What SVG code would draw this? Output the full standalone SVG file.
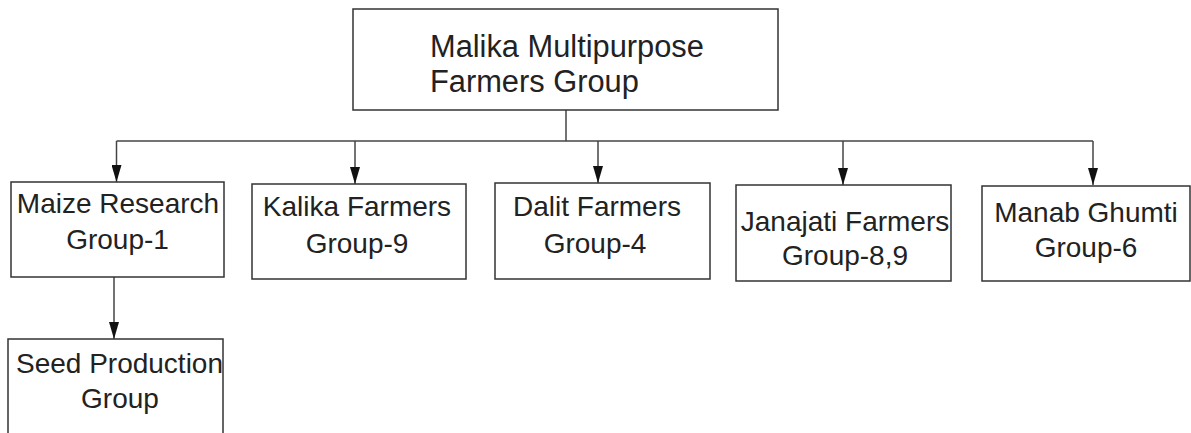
<svg xmlns="http://www.w3.org/2000/svg" width="1191" height="433" viewBox="0 0 1191 433">
<style>
.box{fill:#fff;stroke:#333;stroke-width:1.5}
.t{font-family:"Liberation Sans",Arial,sans-serif;font-size:28px;fill:#222;text-anchor:middle}
.tl{font-family:"Liberation Sans",Arial,sans-serif;font-size:30.8px;fill:#222}
.c{fill:none;stroke:#444;stroke-width:1.5}
</style>
<defs>
<marker id="a" viewBox="0 0 17 10" refX="17" refY="5" markerWidth="17" markerHeight="10" markerUnits="userSpaceOnUse" orient="auto">
<path d="M0,0 L17,5 L0,10 Z" fill="#111"/>
</marker>
</defs>
<rect width="1191" height="433" fill="#fff"/>
<g id="connectors">
<path class="c" d="M566,110 V141"/>
<path class="c" d="M116.5,141 H1093"/>
<path class="c" d="M116.5,141 V182" marker-end="url(#a)"/>
<path class="c" d="M355,141 V184" marker-end="url(#a)"/>
<path class="c" d="M598,141 V183" marker-end="url(#a)"/>
<path class="c" d="M843,141 V185" marker-end="url(#a)"/>
<path class="c" d="M1093,141 V185" marker-end="url(#a)"/>
<path class="c" d="M114,277 V339" marker-end="url(#a)"/>
</g>
<g id="root">
<rect class="box" x="353" y="9" width="425" height="101"/>
<text class="tl" x="430" y="57">Malika Multipurpose</text>
<text class="tl" x="430" y="92">Farmers Group</text>
</g>
<g id="maize">
<rect class="box" x="11" y="182" width="213" height="95"/>
<text class="t" x="118" y="213">Maize Research</text>
<text class="t" x="117.5" y="249">Group-1</text>
</g>
<g id="kalika">
<rect class="box" x="252" y="184" width="214" height="95"/>
<text class="t" x="357" y="216">Kalika Farmers</text>
<text class="t" x="357" y="253">Group-9</text>
</g>
<g id="dalit">
<rect class="box" x="495" y="183" width="215" height="96"/>
<text class="t" x="597" y="216">Dalit Farmers</text>
<text class="t" x="595" y="253">Group-4</text>
</g>
<g id="janajati">
<rect class="box" x="736" y="185" width="215" height="96"/>
<text class="t" x="845" y="231">Janajati Farmers</text>
<text class="t" x="845" y="265">Group-8,9</text>
</g>
<g id="manab">
<rect class="box" x="982" y="186" width="208" height="95"/>
<text class="t" x="1086" y="222">Manab Ghumti</text>
<text class="t" x="1086" y="257">Group-6</text>
</g>
<g id="seed">
<rect class="box" x="8" y="339" width="215" height="110"/>
<text class="t" x="119.5" y="373">Seed Production</text>
<text class="t" x="120" y="408">Group</text>
</g>
</svg>
